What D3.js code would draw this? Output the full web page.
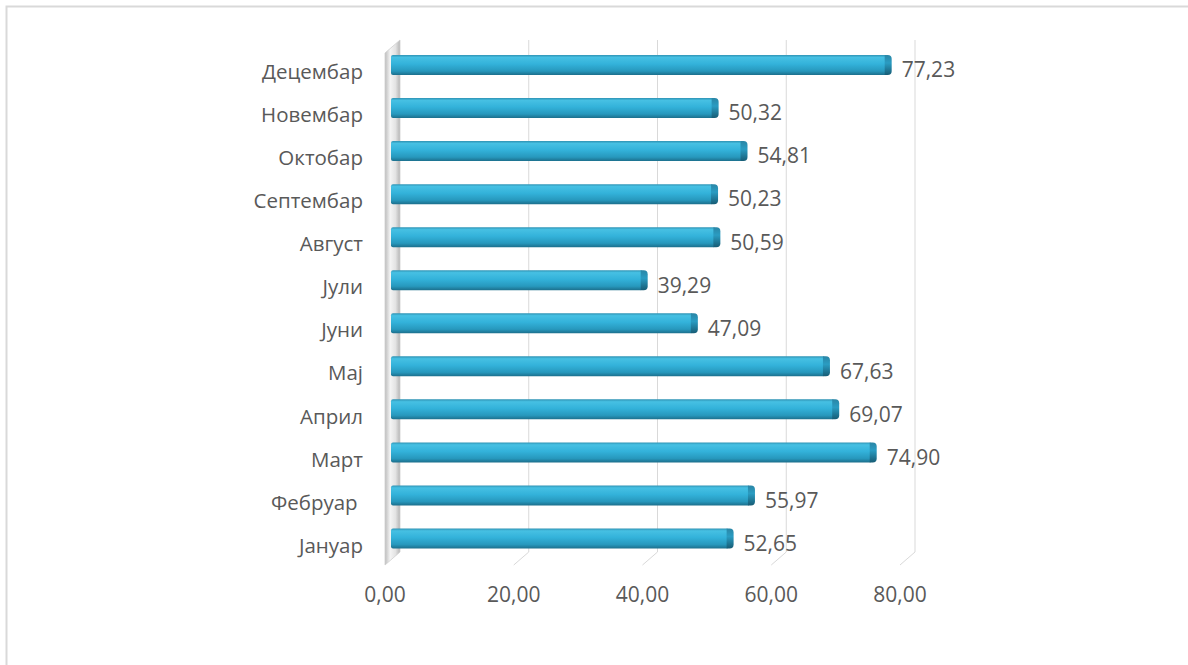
<!DOCTYPE html>
<html>
<head>
<meta charset="utf-8">
<script src="https://cdn.jsdelivr.net/npm/d3@7"></script>
<style>
  html, body { margin: 0; padding: 0; background: #fff; }
  svg { display: block; }
  text { font-family: "Open Sans", "Noto Sans", sans-serif; fill: #595959; }
</style>
</head>
<body>
<svg id="chart" width="1188" height="665"></svg>
<script>
const categories = ["Јануар", "Фебруар ", "Март", "Април", "Мај", "Јуни", "Јули", "Август", "Септембар", "Октобар", "Новембар", "Децембар"];
const values = [52.65, 55.97, 74.90, 69.07, 67.63, 47.09, 39.29, 50.59, 50.23, 54.81, 50.32, 77.23];
const ticks = [0, 20, 40, 60, 80];

const svg = d3.select("#chart");
const loc = d3.formatLocale({decimal: ",", thousands: ".", grouping: [3], currency: ["", ""]});
const fmt = loc.format(".2f");

// outer frame (top and left edges visible)
svg.append("path").attr("d", "M6.5,700 V6.5 H1200").attr("fill", "none")
  .attr("stroke", "#d9d9d9").attr("stroke-width", 2);

const dy = 13;                    // 3D depth offset (back -> front)
const xBack = d3.scaleLinear().domain([0, 80]).range([400, 915]);
const xFront = d3.scaleLinear().domain([0, 80]).range([385, 900]);
const xMid = d3.scaleLinear().domain([0, 80]).range([393, 907.5]);
const y = d3.scalePoint().domain(categories.slice().reverse()).range([65, 538.5]);
const topY = 40, floorBack = 552, floorFront = floorBack + dy;

const defs = svg.append("defs");
const wg = defs.append("linearGradient").attr("id", "wall").attr("x1", 0).attr("x2", 1).attr("y1", 0).attr("y2", 0);
wg.append("stop").attr("offset", "0%").attr("stop-color", "#bdbdbd");
wg.append("stop").attr("offset", "35%").attr("stop-color", "#f4f4f4");
wg.append("stop").attr("offset", "70%").attr("stop-color", "#e3e3e3");
wg.append("stop").attr("offset", "100%").attr("stop-color", "#b5b5b5");

const bg = defs.append("linearGradient").attr("id", "bar").attr("x1", 0).attr("x2", 0).attr("y1", 0).attr("y2", 1);
bg.append("stop").attr("offset", "0%").attr("stop-color", "#2f93b4");
bg.append("stop").attr("offset", "12%").attr("stop-color", "#46c0e3");
bg.append("stop").attr("offset", "45%").attr("stop-color", "#33b2da");
bg.append("stop").attr("offset", "80%").attr("stop-color", "#2798bd");
bg.append("stop").attr("offset", "100%").attr("stop-color", "#1c6f8c");

const cg = defs.append("linearGradient").attr("id", "cap").attr("x1", 0).attr("x2", 0).attr("y1", 0).attr("y2", 1);
cg.append("stop").attr("offset", "0%").attr("stop-color", "#2a86a6");
cg.append("stop").attr("offset", "40%").attr("stop-color", "#2a9cc2");
cg.append("stop").attr("offset", "100%").attr("stop-color", "#175c75");

// gridlines: back vertical + floor diagonal
const g = svg.append("g");
ticks.forEach(t => {
  if (t === 0) return;
  g.append("line").attr("x1", xBack(t)).attr("x2", xBack(t)).attr("y1", topY).attr("y2", floorBack)
    .attr("stroke", "#d9d9d9").attr("stroke-width", 1);
  g.append("line").attr("x1", xBack(t)).attr("x2", xFront(t)).attr("y1", floorBack).attr("y2", floorFront)
    .attr("stroke", "#d9d9d9").attr("stroke-width", 1);
});

// left wall
svg.append("path")
  .attr("d", `M${xFront(0)},${topY + dy} L${xBack(0)},${topY} L${xBack(0)},${floorBack} L${xFront(0)},${floorFront} Z`)
  .attr("fill", "url(#wall)").attr("stroke", "#cfcfcf").attr("stroke-width", 0.8);

// bars
const bh = 20;
const bars = svg.append("g").selectAll("g").data(categories.map((c, i) => ({c, v: values[i]}))).join("g");
bars.append("rect")
  .attr("x", xMid(0) - 2).attr("y", d => y(d.c) - bh / 2)
  .attr("width", d => xMid(d.v) - xMid(0) - 1).attr("height", bh)
  .attr("rx", 2).attr("fill", "url(#bar)");
bars.append("path")
  .attr("d", d => {
    const x = xMid(d.v) - 5, t = y(d.c) - bh / 2, b = y(d.c) + bh / 2;
    return `M${x},${t} L${x + 3},${t} Q${x + 7},${t} ${x + 7},${t + 4} L${x + 7},${b - 4} Q${x + 7},${b} ${x + 3},${b} L${x},${b} Z`;
  })
  .attr("fill", "url(#cap)");

// value labels
bars.append("text")
  .attr("x", d => xMid(d.v) + 12).attr("y", d => y(d.c) + 5)
  .attr("dy", "0.35em").attr("font-size", 21)
  .text(d => fmt(d.v));

// category labels
svg.append("g").selectAll("text").data(categories).join("text")
  .attr("x", 363).attr("y", d => y(d) + 7).attr("dy", "0.35em")
  .attr("text-anchor", "end").attr("font-size", 20.5)
  .style("white-space", "pre")
  .text(d => d);

// x tick labels
svg.append("g").selectAll("text").data(ticks).join("text")
  .attr("x", d => xFront(d)).attr("y", 595).attr("dy", "0.35em")
  .attr("text-anchor", "middle").attr("font-size", 21)
  .text(d => fmt(d));
</script>
</body>
</html>
